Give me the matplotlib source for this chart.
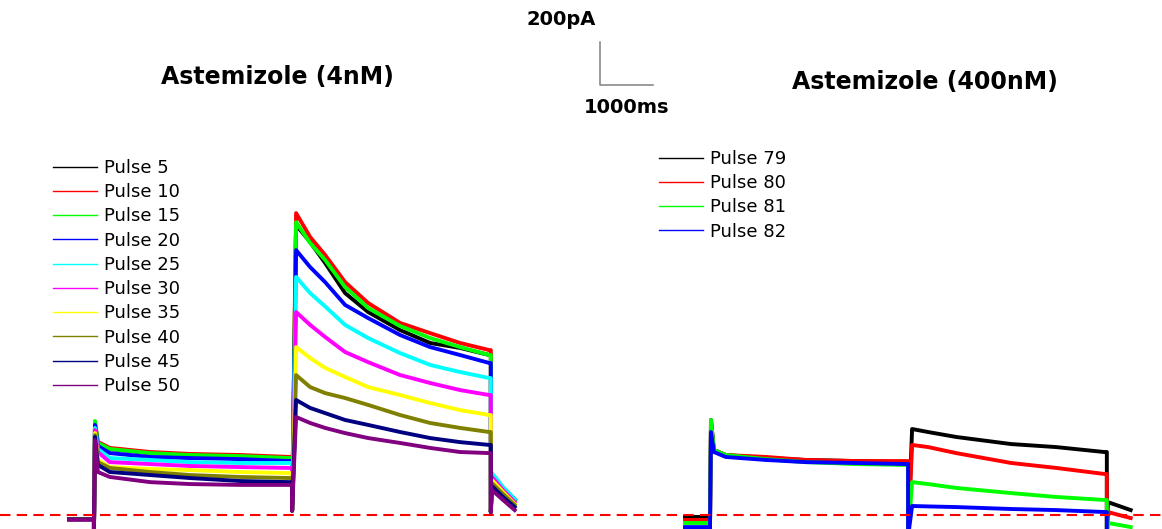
import matplotlib
matplotlib.use("Agg")
import matplotlib.pyplot as plt
from matplotlib.lines import Line2D

# protocol timing (ms), same for both panels
T_STEP1 = 470
T_STEP2 = 4210
T_TAIL = 7960
step1_t = [20, 75, 300, 1060, 1810, 2760, 3700]
left_step2_t = [75, 340, 623, 1000, 1434, 2038, 2604, 3170, 3720]
right_step2_t = [75, 377, 906, 1944, 2793, 3700]
tail_t = [20, 230, 450]
RIGHT_OFFSET = 11624

# Astemizole 4nM (pA)
left_labels = ["Pulse 5", "Pulse 10", "Pulse 15", "Pulse 20", "Pulse 25",
               "Pulse 30", "Pulse 35", "Pulse 40", "Pulse 45", "Pulse 50"]
left_colors = ["#000000", "#ff0000", "#00ff00", "#0000ff", "#00ffff",
               "#ff00ff", "#ffff00", "#808000", "#000080", "#800080"]
left_hold = [-19, -19, -19, -19, -19, -19, -19, -19, -20, -22]
left_step1 = [
    [423, 330, 307, 288, 279, 274, 265],
    [432, 340, 312, 293, 284, 279, 270],
    [437, 335, 307, 288, 279, 274, 265],
    [419, 321, 288, 270, 265, 260, 251],
    [405, 307, 265, 256, 246, 242, 242],
    [395, 293, 246, 237, 228, 223, 219],
    [381, 256, 223, 214, 209, 200, 195],
    [372, 246, 219, 200, 186, 177, 172],
    [363, 233, 200, 186, 172, 158, 153],
    [349, 200, 177, 153, 144, 140, 140],
]
left_step2 = [
    [1349, 1269, 1172, 1032, 944, 860, 800, 777, 744],
    [1404, 1293, 1209, 1083, 986, 893, 846, 800, 767],
    [1362, 1265, 1186, 1060, 963, 879, 823, 781, 744],
    [1232, 1153, 1083, 977, 916, 837, 781, 744, 707],
    [1107, 1032, 970, 884, 823, 753, 698, 665, 637],
    [944, 884, 828, 758, 711, 651, 614, 581, 558],
    [781, 730, 684, 642, 595, 558, 521, 488, 465],
    [651, 595, 567, 544, 512, 465, 428, 405, 386],
    [535, 498, 474, 442, 419, 386, 358, 339, 326],
    [456, 428, 405, 381, 358, 335, 312, 293, 288],
]
left_tail = [
    [181, 121, 70],
    [186, 126, 70],
    [186, 126, 70],
    [191, 126, 74],
    [195, 130, 74],
    [177, 116, 60],
    [163, 107, 51],
    [149, 98, 47],
    [135, 84, 37],
    [116, 70, 23],
]
left_dips = [-100, 20, 14]

# Astemizole 400nM (pA)
right_labels = ["Pulse 79", "Pulse 80", "Pulse 81", "Pulse 82"]
right_colors = ["#000000", "#ff0000", "#00ff00", "#0000ff"]
right_hold = [-9, -23, -37, -56]
right_step1 = [
    [442, 302, 279, 265, 256, 251, 246],
    [437, 302, 279, 270, 256, 251, 251],
    [442, 302, 279, 260, 246, 237, 233],
    [386, 293, 270, 256, 246, 242, 237],
]
right_step2 = [
    [400, 386, 363, 330, 316, 293],
    [326, 316, 288, 242, 219, 191],
    [153, 144, 126, 102, 84, 70],
    [42, 40, 37, 28, 23, 14],
]
right_tail = [
    [60, 42, 23],
    [14, 0, -14],
    [-37, -46, -56],
    [-100, -110, -120],
]
right_dips = [-100, -100, -100]


def trace(hold, s1, s2, s2_t, tl, dips, offset):
    t = [0, T_STEP1, T_STEP1] + [T_STEP1 + s for s in step1_t]
    y = [hold, hold, dips[0]] + s1
    t += [T_STEP2, T_STEP2] + [T_STEP2 + s for s in s2_t]
    y += [s1[-1], dips[1]] + s2
    t += [T_TAIL, T_TAIL] + [T_TAIL + s for s in tail_t]
    y += [s2[-1], dips[2]] + tl
    return [v + offset for v in t], y


fig = plt.figure(figsize=(11.62, 5.29), dpi=100)
ax = fig.add_axes([0, 0, 1, 1])
ax.set_xlim(-1302, 20625)
ax.set_ylim(-65, 2395)
ax.axis("off")

ax.axhline(0, color="red", lw=1.5, ls=(0, (5, 3)), zorder=5)

for i in range(len(left_labels)):
    t, y = trace(left_hold[i], left_step1[i], left_step2[i], left_step2_t,
                 left_tail[i], left_dips, 0)
    ax.plot(t, y, color=left_colors[i], lw=2.8, solid_joinstyle="round")

for i in range(len(right_labels)):
    t, y = trace(right_hold[i], right_step1[i], right_step2[i], right_step2_t,
                 right_tail[i], right_dips, RIGHT_OFFSET)
    ax.plot(t, y, color=right_colors[i], lw=2.8, solid_joinstyle="round")

# scale bar: 200 pA / 1000 ms
ax.plot([10020, 10020, 11020], [2200, 2000, 2000], color="#808080", lw=1.1)
ax.text(9940, 2302, "200pA", ha="right", va="center", fontsize=14, fontweight="bold")
ax.text(10530, 1893, "1000ms", ha="center", va="center", fontsize=14, fontweight="bold")

# titles
fig.text(277 / 1162, 1 - 77 / 529, "Astemizole (4nM)", ha="center", va="center",
         fontsize=17, fontweight="bold")
fig.text(925 / 1162, 1 - 82 / 529, "Astemizole (400nM)", ha="center", va="center",
         fontsize=17, fontweight="bold")

h_left = [Line2D([], [], color=c, lw=1) for c in left_colors]
h_right = [Line2D([], [], color=c, lw=1) for c in right_colors]
leg1 = ax.legend(h_left, left_labels, loc="upper left", bbox_to_anchor=(53 / 1162, 1 - 159 / 529),
                 bbox_transform=fig.transFigure, frameon=False, fontsize=13,
                 handlelength=2.45, handletextpad=0.35, labelspacing=0.345,
                 borderaxespad=0, borderpad=0)
ax.add_artist(leg1)
ax.legend(h_right, right_labels, loc="upper left", bbox_to_anchor=(659 / 1162, 1 - 150 / 529),
          bbox_transform=fig.transFigure, frameon=False, fontsize=13,
          handlelength=2.45, handletextpad=0.35, labelspacing=0.345,
          borderaxespad=0, borderpad=0)

fig.savefig("out.png", dpi=100)
